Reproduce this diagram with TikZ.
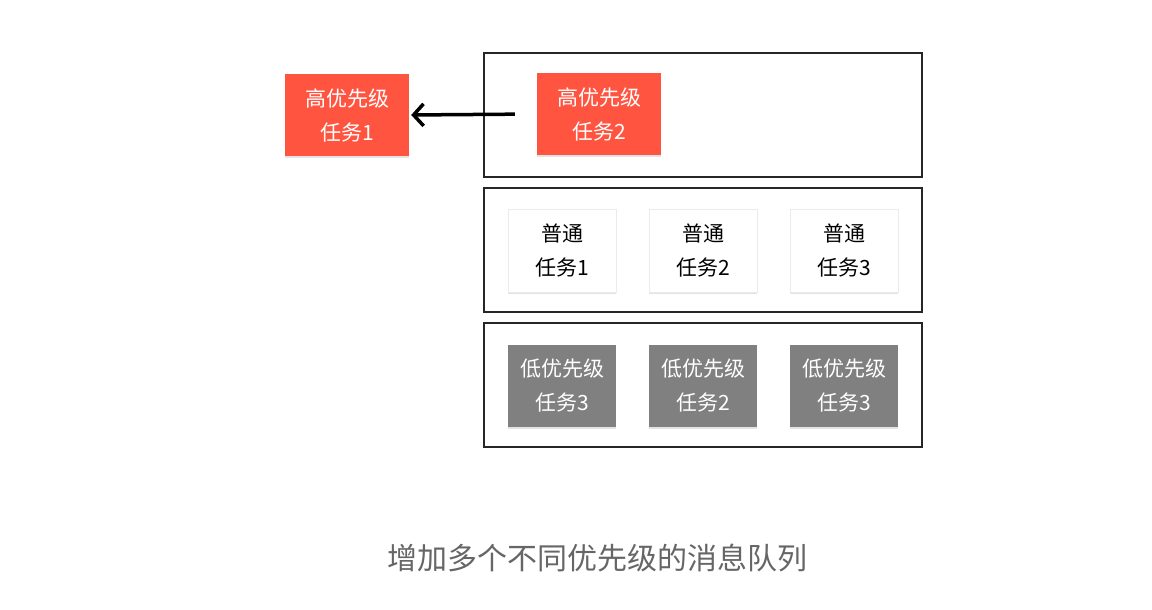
\documentclass[tikz,border=0pt]{standalone}
\usepackage{fontspec}
\setmainfont{Noto Sans CJK SC}
\usepackage{tikz}
\usetikzlibrary{arrows.meta,shadows}
\definecolor{hired}{HTML}{FF5540}
\definecolor{lowgray}{HTML}{808080}
\definecolor{captiongray}{HTML}{666666}

\begin{document}
\begin{tikzpicture}[x=1pt,y=-1pt,>={Straight Barb[length=10pt,width=22pt]}]
\tikzstyle{every node}=[font=\fontsize{21pt}{34pt}\selectfont,inner sep=0pt,align=center]
\tikzstyle{queue}=[draw=black!85,line width=1.5pt,minimum width=438pt,minimum height=124pt]
\tikzstyle{task}=[minimum width=124pt,minimum height=82pt,drop shadow={opacity=0.22,shadow xshift=0pt,shadow yshift=-1.5pt}]
\tikzstyle{hitask}=[task,fill=hired,text=white]
\tikzstyle{midtask}=[task,minimum width=108pt,minimum height=83pt,fill=white,draw=black!8,line width=1pt,text=black]
\tikzstyle{lowtask}=[task,minimum width=108pt,minimum height=82pt,fill=lowgray,text=white]
\useasboundingbox (0,0) rectangle (1152,610);

\node [queue] (hiq) at (703,115) {};
\node [queue] (midq) at (703,250) {};
\node [queue] (lowq) at (703,385) {};

\node [hitask] (hi1) at (347,115) {高优先级\\任务1};
\node [hitask] (hi2) at (599,114) {高优先级\\任务2};

\node [midtask] (mid1) at (562,250.5) {普通\\任务1};
\node [midtask] (mid2) at (703,250.5) {普通\\任务2};
\node [midtask] (mid3) at (844,250.5) {普通\\任务3};

\node [lowtask] (low1) at (562,386) {低优先级\\任务3};
\node [lowtask] (low2) at (703,386) {低优先级\\任务2};
\node [lowtask] (low3) at (844,386) {低优先级\\任务3};

\draw [->,line width=3.5pt,shorten <=22pt,shorten >=2pt] (hi2.west) -- (hi1.east);

\node [font=\fontsize{30pt}{36pt}\selectfont,text=captiongray] (caption) at (597,558) {增加多个不同优先级的消息队列};
\end{tikzpicture}
\end{document}
